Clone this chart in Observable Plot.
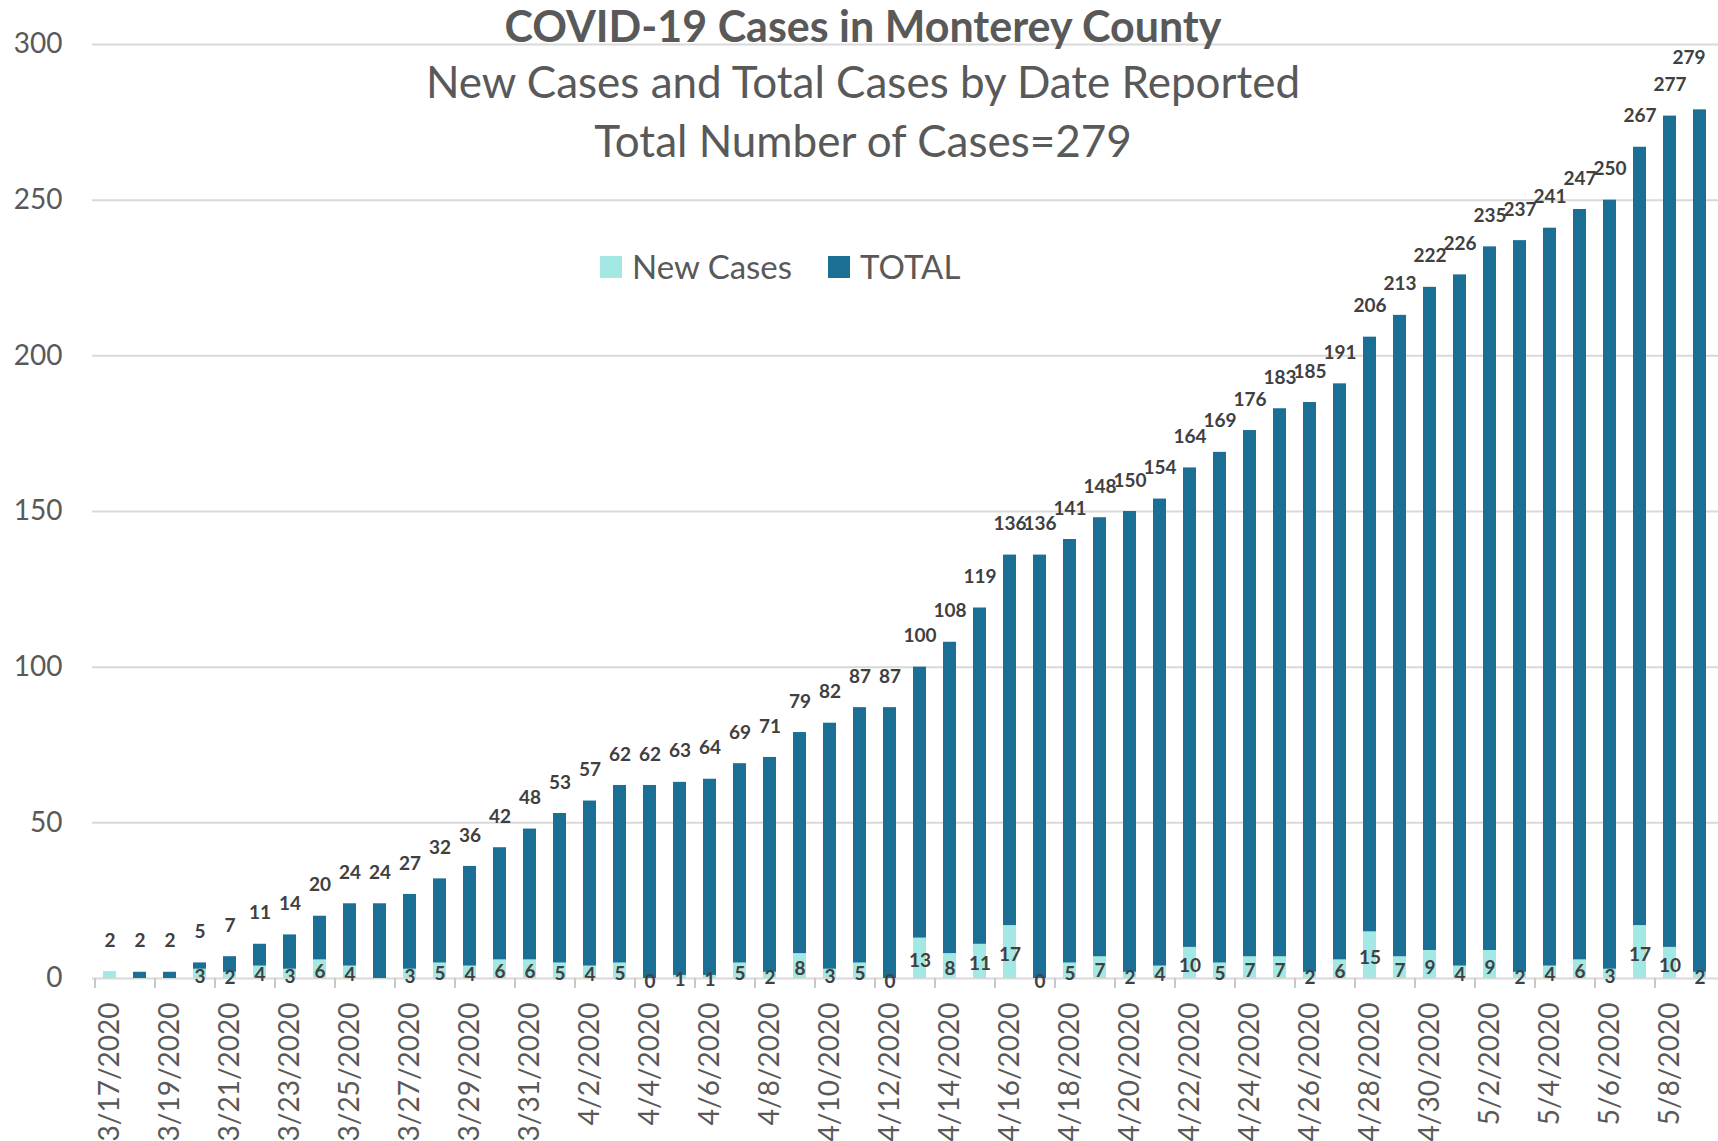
<!DOCTYPE html>
<html><head><meta charset="utf-8">
<script src="https://cdn.jsdelivr.net/npm/d3@7"></script>
<script src="https://cdn.jsdelivr.net/npm/@observablehq/plot@0.6"></script>
<style>
body{margin:0;background:#fff;}
#wrap{position:relative;width:1718px;height:1141px;font-family:Lato,sans-serif;overflow:hidden;}
.t{position:absolute;left:863px;transform:translateX(-50%);color:#595959;white-space:nowrap;line-height:1.1;}
#title{top:2px;font-size:43px;font-weight:bold;}
#sub1{top:57px;font-size:44px;}
#sub2{top:116px;font-size:44px;}
#legend{position:absolute;top:250px;left:600px;display:flex;align-items:center;color:#595959;font-size:33px;line-height:1;}
.sw{display:inline-block;width:22px;height:22px;margin-right:10px;}
</style></head><body>
<div id="wrap">
<div id="chart"></div>
<div class="t" id="title">COVID-19 Cases in Monterey County</div>
<div class="t" id="sub1">New Cases and Total Cases by Date Reported</div>
<div class="t" id="sub2">Total Number of Cases=279</div>
<div id="legend"><span class="sw" style="background:#a3e8e4"></span><span>New Cases</span><span class="sw" style="background:#1b6e94;margin-left:36px"></span><span>TOTAL</span></div>
</div>
<script>
const dates = ["3/17/2020","3/18/2020","3/19/2020","3/20/2020","3/21/2020","3/22/2020","3/23/2020","3/24/2020","3/25/2020","3/26/2020","3/27/2020","3/28/2020","3/29/2020","3/30/2020","3/31/2020",
"4/1/2020","4/2/2020","4/3/2020","4/4/2020","4/5/2020","4/6/2020","4/7/2020","4/8/2020","4/9/2020","4/10/2020","4/11/2020","4/12/2020","4/13/2020","4/14/2020","4/15/2020","4/16/2020","4/17/2020","4/18/2020","4/19/2020","4/20/2020","4/21/2020","4/22/2020","4/23/2020","4/24/2020","4/25/2020","4/26/2020","4/27/2020","4/28/2020","4/29/2020","4/30/2020",
"5/1/2020","5/2/2020","5/3/2020","5/4/2020","5/5/2020","5/6/2020","5/7/2020","5/8/2020","5/9/2020"];
const totals = [2,2,2,5,7,11,14,20,24,24,27,32,36,42,48,53,57,62,62,63,64,69,71,79,82,87,87,100,108,119,136,136,141,148,150,154,164,169,176,183,185,191,206,213,222,226,235,237,241,247,250,267,277,279];
const newCases = [2,null,null,3,2,4,3,6,4,null,3,5,4,6,6,5,4,5,0,1,1,5,2,8,3,5,0,13,8,11,17,0,5,7,2,4,10,5,7,7,2,6,15,7,9,4,9,2,4,6,3,17,10,2];
const yTicks = [0,50,100,150,200,250,300];

const darkColor = "#1b6e94", lightColor = "#a3e8e4";
const data = dates.map((d,i)=>({date:d, total:totals[i], newCases:newCases[i], i}));
const newData = data.filter(d=>d.newCases!=null);
const tickDates = dates.filter((d,i)=>i%2===0);
const labelFont = {fontWeight:"bold", fontSize:19, fill:"#404040"};

const chart = Plot.plot({
  width:1718, height:1141,
  marginLeft:92, marginRight:0, marginTop:44, marginBottom:163,
  style:{fontFamily:"Lato, sans-serif", background:"white"},
  x:{type:"band", domain:dates, paddingInner:0.58, paddingOuter:0.29, align:0.45, axis:null},
  y:{domain:[0,300], axis:null},
  marks:[
    Plot.ruleY(yTicks, {stroke:"#d9d9d9", strokeWidth:2}),
    Plot.axisY({ticks:yTicks, tickSize:0, tickPadding:30, fontSize:28, fill:"#595959", label:null}),
    Plot.axisX({ticks:tickDates, tickSize:10, text:null, dx:-15, stroke:"#c8c8c8", strokeWidth:2, label:null}),
    Plot.axisX({ticks:tickDates, tickSize:0, tickRotate:-90, tickPadding:24, fontSize:28, fill:"#595959", label:null}),
    Plot.barY(data, {x:"date", y:"total", fill:darkColor}),
    Plot.barY(newData, {x:"date", y:"newCases", fill:lightColor}),
    Plot.text(data.slice(0,-1), {x:"date", y:"total", text:d=>String(d.total), dy:-31, ...labelFont}),
    Plot.text(data.slice(-1), {x:"date", y:"total", text:d=>String(d.total), dy:-52, dx:-11, ...labelFont}),
    Plot.text(newData.slice(1), {x:"date", y:d=>d.newCases/2, text:d=>String(d.newCases), dy:3, ...labelFont})
  ]
});
document.getElementById("chart").appendChild(chart);
</script>
</body></html>
